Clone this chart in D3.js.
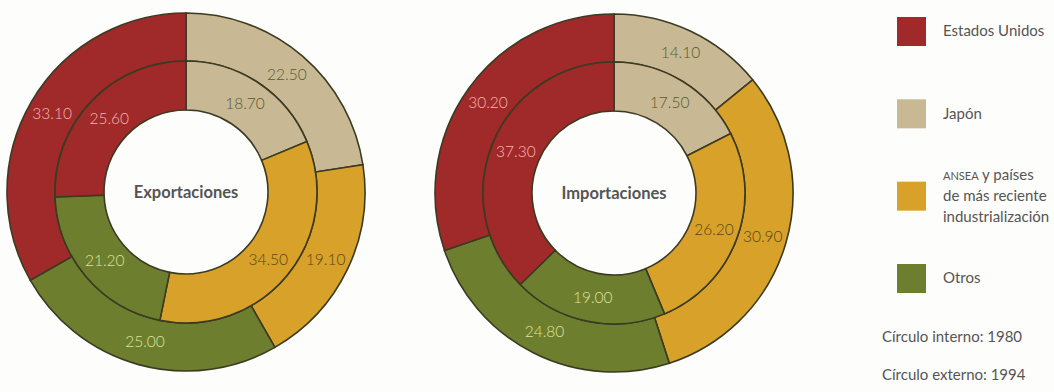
<!DOCTYPE html>
<html>
<head>
<meta charset="utf-8">
<script src="https://cdn.jsdelivr.net/npm/d3@7"></script>
<style>
  body { margin: 0; background: #fdfdfb; }
  text { font-family: Lato, "Open Sans", sans-serif; }
</style>
</head>
<body>
<div id="chart"></div>
<script>
var width = 1054;
var height = 392;

// order is clockwise from 12 o'clock
var regions = ["Japón", "ANSEA", "Otros", "Estados Unidos"];
var exports1980 = [18.70, 34.50, 21.20, 25.60];
var exports1994 = [22.50, 19.10, 25.00, 33.10];
var imports1980 = [17.50, 26.20, 19.00, 37.30];
var imports1994 = [14.10, 30.90, 24.80, 30.20];

var legendOrder = ["Estados Unidos", "Japón", "ANSEA", "Otros"];
var legendLabels = [["Estados Unidos"], ["Japón"], ["ANSEA y países", "de más reciente", "industrialización"], ["Otros"]];

var colors = d3.scaleOrdinal()
    .domain(regions)
    .range(["#c8b893", "#d8a12a", "#6d7f2e", "#a0292a"]);
var labelColors = d3.scaleOrdinal()
    .domain(regions)
    .range(["#555a2c", "#5a4512", "#dfe39a", "#f2b9b2"]);

var svg = d3.select("#chart").append("svg")
    .attr("width", width)
    .attr("height", height);

var rHole = 82;
var rMid = 131;
var rOuter = 179;

var pie = d3.pie().sort(null).value(function(d) { return d.v; });

function drawDonut(cx, cy, inner, outer, title) {
    var g = svg.append("g")
        .attr("transform", "translate(" + cx + "," + cy + ")");

    var rings = [
        { data: outer, r0: rMid, r1: rOuter },
        { data: inner, r0: rHole, r1: rMid }
    ];

    rings.forEach(function(ring) {
        var arc = d3.arc().innerRadius(ring.r0).outerRadius(ring.r1);
        var slices = pie(ring.data.map(function(v, i) { return { k: regions[i], v: v }; }));

        g.selectAll(null)
            .data(slices)
            .enter()
            .append("path")
            .attr("d", arc)
            .attr("fill", function(d) { return colors(d.data.k); })
            .attr("stroke", "#3b3a22")
            .attr("stroke-width", 1.6);

        g.selectAll(null)
            .data(slices)
            .enter()
            .append("text")
            .attr("transform", function(d) { return "translate(" + arc.centroid(d) + ")"; })
            .attr("text-anchor", "middle")
            .attr("dy", "0.35em")
            .attr("font-size", "15.5px")
            .attr("font-weight", 300)
            .attr("fill", function(d) { return labelColors(d.data.k); })
            .text(function(d) { return d.data.v.toFixed(2); });
    });

    g.append("text")
        .attr("text-anchor", "middle")
        .attr("dy", "0.35em")
        .attr("font-size", "16.5px")
        .attr("font-weight", "bold")
        .attr("fill", "#555")
        .text(title);
}

drawDonut(186, 192, exports1980, exports1994, "Exportaciones");
drawDonut(614, 193, imports1980, imports1994, "Importaciones");

// Legend
var legendY = d3.scalePoint()
    .domain(legendOrder)
    .range([31, 278]);

var legend = svg.append("g");

legend.selectAll("rect")
    .data(legendOrder)
    .enter()
    .append("rect")
    .attr("x", 897)
    .attr("y", function(d) { return legendY(d) - 14; })
    .attr("width", 29)
    .attr("height", 29)
    .attr("fill", function(d) { return colors(d); });

legendOrder.forEach(function(k, i) {
    var lines = legendLabels[i];
    var t = legend.append("text")
        .attr("x", 943)
        .attr("y", legendY(k) - (lines.length - 1) * 10.5)
        .attr("font-size", "15px")
        .attr("fill", "#555");
    lines.forEach(function(line, j) {
        var ts = t.append("tspan")
            .attr("x", 943)
            .attr("dy", j === 0 ? "0.35em" : "21px");
        if (line.indexOf("ANSEA") === 0) {
            ts.append("tspan").attr("font-size", "11px").text("ANSEA");
            ts.append("tspan").text(line.slice(5));
        } else {
            ts.text(line);
        }
    });
});

svg.append("text")
    .attr("x", 882)
    .attr("y", 337)
    .attr("dy", "0.35em")
    .attr("font-size", "15px")
    .attr("fill", "#555")
    .text("Círculo interno: 1980");

svg.append("text")
    .attr("x", 882)
    .attr("y", 375)
    .attr("dy", "0.35em")
    .attr("font-size", "15px")
    .attr("fill", "#555")
    .text("Círculo externo: 1994");
</script>
</body>
</html>
